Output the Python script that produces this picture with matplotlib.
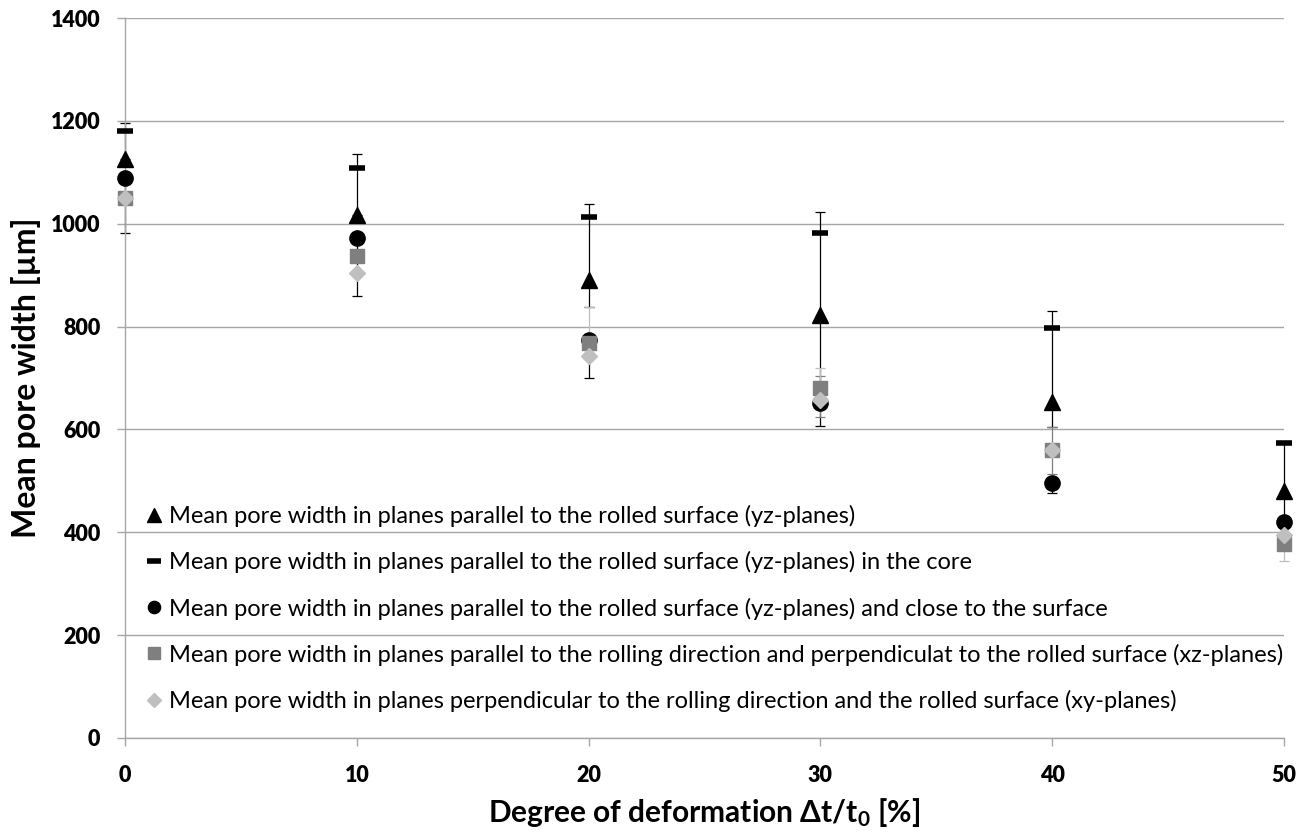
import matplotlib
matplotlib.use("Agg")
import matplotlib.pyplot as plt
import numpy as np
from matplotlib.lines import Line2D

plt.rcParams['font.family'] = ['Lato', 'DejaVu Sans']
plt.rcParams['mathtext.fontset'] = 'custom'
plt.rcParams['mathtext.rm'] = 'Lato:bold'
plt.rcParams['mathtext.bf'] = 'Lato:bold'
plt.rcParams['mathtext.it'] = 'Lato:bold'

# Data
deformation = [0, 10, 20, 30, 40, 50]
yz_all = [1126, 1017, 891, 822, 653, 481]
yz_core = [1180, 1109, 1014, 981, 797, 573]
yz_surface = [1089, 972, 773, 651, 495, 420]
xz_planes = [1050, 937, 768, 680, 560, 377]
xy_planes = [1050, 904, 743, 657, 560, 395]

# error bars (lower, upper)
yz_all_err_low = [0, 0, 53, 215, 49, 104]
yz_all_err_up = [54, 92, 123, 159, 144, 92]
yz_core_err_low = [0, 0, 0, 0, 0, 0]
yz_core_err_up = [16, 27, 24, 42, 33, 0]
yz_surface_err_low = [107, 113, 73, 0, 18, 0]
yz_surface_err_up = [0, 0, 0, 0, 0, 0]
xz_err_low = [0, 0, 0, 56, 47, 0]
xz_err_up = [0, 0, 0, 24, 44, 0]
xy_err_low = [0, 0, 0, 0, 0, 51]
xy_err_up = [0, 0, 95, 63, 0, 0]

y_ticks = [0, 200, 400, 600, 800, 1000, 1200, 1400]

labels = [
    "Mean pore width in planes parallel to the rolled surface (yz-planes)",
    "Mean pore width in planes parallel to the rolled surface (yz-planes) in the core",
    "Mean pore width in planes parallel to the rolled surface (yz-planes) and close to the surface",
    "Mean pore width in planes parallel to the rolling direction and perpendiculat to the rolled surface (xz-planes)",
    "Mean pore width in planes perpendicular to the rolling direction and the rolled surface (xy-planes)",
]

fig = plt.figure(figsize=(13.10, 8.33), dpi=100)
ax = fig.add_axes([125/1310, 1 - 738/833, 1159/1310, 720/833])

ax.set_xlim(0, 50)
ax.set_ylim(0, 1400)
ax.tick_params(axis='y', colors='#A6A6A6', length=5.8, width=1.0, labelcolor='black', pad=12)
ax.tick_params(axis='x', colors='#A6A6A6', length=5.8, width=1.0, labelcolor='black', pad=14)
ax.set_yticks(y_ticks, labels=[str(v) for v in y_ticks], fontweight='heavy', fontsize=15.5)
ax.set_xticks(deformation, labels=[str(v) for v in deformation], fontweight='heavy', fontsize=15.5)
ax.grid(axis='y', color='#A6A6A6', linewidth=1.0, zorder=0)
ax.set_axisbelow(True)
for s in ['top', 'right']:
    ax.spines[s].set_visible(False)
ax.spines['left'].set_color('#A6A6A6')
ax.spines['bottom'].set_color('#A6A6A6')
ax.spines['left'].set_linewidth(1.0)
ax.spines['bottom'].set_linewidth(1.0)

ebkw = dict(fmt='none', capsize=3.6, elinewidth=0.9, capthick=0.9, clip_on=False, zorder=2)
series = [
    (yz_all, yz_all_err_low, yz_all_err_up, 'black'),
    (yz_core, yz_core_err_low, yz_core_err_up, 'black'),
    (yz_surface, yz_surface_err_low, yz_surface_err_up, 'black'),
    (xz_planes, xz_err_low, xz_err_up, '#7F7F7F'),
    (xy_planes, xy_err_low, xy_err_up, '#BFBFBF'),
]
for vals, lo, up, col in series:
    keep = [i for i, (l, u) in enumerate(zip(lo, up)) if l > 0 or u > 0]
    xs = [deformation[i] for i in keep]
    ys = [vals[i] for i in keep]
    los = [lo[i] for i in keep]
    ups = [up[i] for i in keep]
    ax.errorbar(xs, ys, yerr=[los, ups], ecolor=col, **ebkw)

styles = [
    dict(marker='^', color='black', ms=12),
    dict(marker='_', color='black', ms=12, mew=4),
    dict(marker='o', color='black', ms=11),
    dict(marker='s', color='#7F7F7F', ms=10.5),
    dict(marker='D', color='#BFBFBF', ms=8.5),
]
all_vals = [yz_all, yz_core, yz_surface, xz_planes, xy_planes]
handles = []
for i, (vals, st) in enumerate(zip(all_vals, styles)):
    ax.plot(deformation, vals, linestyle='none', clip_on=False, zorder=3 + i, **st)
    hst = dict(st)
    hst['ms'] = st['ms'] * 0.8
    handles.append(Line2D([], [], linestyle='none', **hst))

leg = ax.legend(handles, labels, loc='lower left', bbox_to_anchor=(0.0005, 0.010),
                frameon=False, fontsize=17, handlelength=0.8, handletextpad=0.25,
                labelspacing=1.02, borderpad=0.3)

ax.set_ylabel("Mean pore width [µm]", fontsize=23, fontweight='bold', labelpad=7)
ax.set_xlabel(r"Degree of deformation Δt/t$_0$ [%]", fontsize=21.5,
              fontweight='bold', labelpad=7)

fig.savefig("out.png", dpi=100)
